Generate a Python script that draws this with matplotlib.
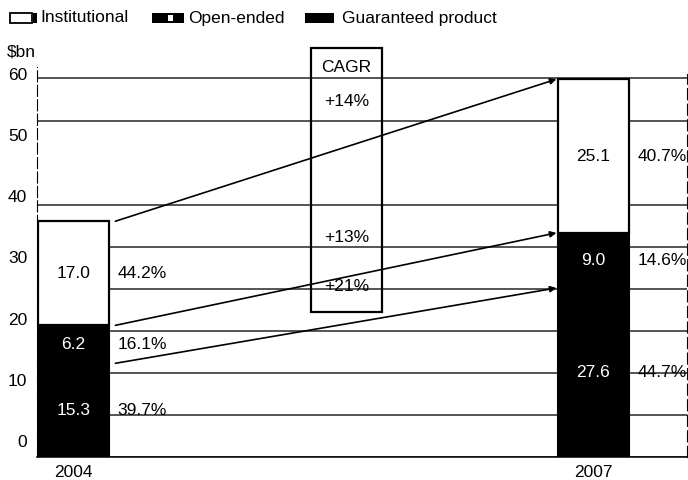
import matplotlib
matplotlib.use("Agg")
import matplotlib.pyplot as plt
from matplotlib.patches import Rectangle
import numpy as np

plt.rcParams['font.family'] = ['Liberation Sans', 'DejaVu Sans']
plt.rcParams['font.size'] = 12.5

# Fund assets by type, $bn
years = ['2004', '2007']
institutional = [17.0, 25.1]
open_ended = [6.2, 9.0]
guaranteed = [15.3, 27.6]
series_names = ['Institutional', 'Open-ended', 'Guaranteed product']
cagr = ['+14%', '+13%', '+21%']  # institutional, open-ended, guaranteed
yticks = [0, 10, 20, 30, 40, 50, 60]
grid_levels = [0, 6.9, 13.7, 20.6, 27.5, 34.3, 41.2, 54.9, 61.9]

W, H = 688, 480
fig = plt.figure(figsize=(W / 100, H / 100), dpi=100)
rect = [37 / W, 23 / H, 650 / W, 417 / H]

# separate frame carrying the printed value scale on the left
ax_scale = fig.add_axes(rect, frameon=False)
ax_scale.set_ylim(-2.61, 65.5)
ax_scale.set_yticks(yticks)
ax_scale.set_xticks([])
ax_scale.tick_params(axis='y', length=0, pad=7)

ax = fig.add_axes(rect)
ax.patch.set_alpha(0)
x = np.array([0.0, 1.0])
bw = 0.1365
ax.set_xlim(-0.0705, 1.18)
ax.set_ylim(0, 68.1)

g = np.array(guaranteed)
o = np.array(open_ended)
inst = np.array(institutional)
totals = g + o + inst

for lvl in grid_levels:
    ax.axhline(lvl, color='#262626', lw=1.1, zorder=1)

ax.bar(x, g, bw, color='black', edgecolor='black', lw=1.5, zorder=3)
ax.bar(x, o, bw, bottom=g, color='black', edgecolor='black', lw=1.5, zorder=3)
ax.bar(x, inst, bw, bottom=g + o, color='white', edgecolor='black', lw=1.6, zorder=3)

# values inside bars, shares to the right
segments = [(g, np.zeros(2), 'white'), (o, g, 'white'), (inst, g + o, 'black')]
for vals, bottoms, col in segments:
    for i in range(2):
        mid = bottoms[i] + vals[i] / 2
        ax.text(x[i], mid, f'{vals[i]:.1f}', ha='center', va='center',
                color=col, zorder=4)
        share = vals[i] / totals[i] * 100
        ax.text(x[i] + bw / 2 + 0.016, mid, f'{share:.1f}%', ha='left',
                va='center', color='black', zorder=4)

# growth arrows between the tops of each segment
starts = [totals[0], (g + o)[0], g[0]]
ends = [totals[1], (g + o)[1], g[1]]
for y0, y1 in zip(starts, ends):
    ax.annotate('', xy=(x[1] - bw / 2 - 0.003, y1),
                xytext=(x[0] + bw / 2 + 0.012, y0),
                arrowprops=dict(arrowstyle='-|>', color='black', lw=1.2,
                                mutation_scale=9, shrinkA=0, shrinkB=0),
                zorder=5)

# CAGR box
ax.add_patch(Rectangle((0.4567, 23.7), 0.1366, 43.1, fill=False,
                       edgecolor='black', lw=1.6, zorder=6, clip_on=False))
ax.text(0.525, 63.6, 'CAGR', ha='center', va='center', zorder=6)
for txt, ypos in zip(cagr, [58.0, 35.9, 27.8]):
    ax.text(0.525, ypos, txt, ha='center', va='center', zorder=6)

ax.set_yticks([])
ax.set_xticks(x, years)
ax.tick_params(axis='x', length=0, pad=6)
ax.spines['top'].set_visible(False)
ax.spines['left'].set_linestyle((0, (10, 3)))
ax.spines['left'].set_bounds(0, 63.7)
ax.spines['right'].set_linestyle((0, (10, 4)))
ax.spines['right'].set_bounds(0, 62.6)
ax.spines['bottom'].set_linewidth(1.1)

fig.text(7 / W, 1 - 52 / H, '$bn', va='center', ha='left')

# legend row
def fig_rect(x0, x1, y0, y1, **kw):
    fig.add_artist(Rectangle((x0 / W, 1 - y1 / H), (x1 - x0) / W, (y1 - y0) / H,
                             transform=fig.transFigure, **kw))

ly = 18
fig_rect(10, 32, ly - 5, ly + 5, facecolor='white', edgecolor='black', lw=1.3)
fig_rect(33, 37, ly - 5, ly + 5, facecolor='black', edgecolor='none')
fig_rect(152, 184, ly - 5, ly + 5, facecolor='black', edgecolor='none')
fig_rect(168, 173, ly - 3, ly + 3, facecolor='white', edgecolor='none')
fig_rect(305, 334, ly - 5, ly + 5, facecolor='black', edgecolor='none')
for name, lx in zip(series_names, [40, 188, 342]):
    fig.text(lx / W, 1 - ly / H, name, va='center', ha='left')

fig.savefig('out.png', dpi=100)
